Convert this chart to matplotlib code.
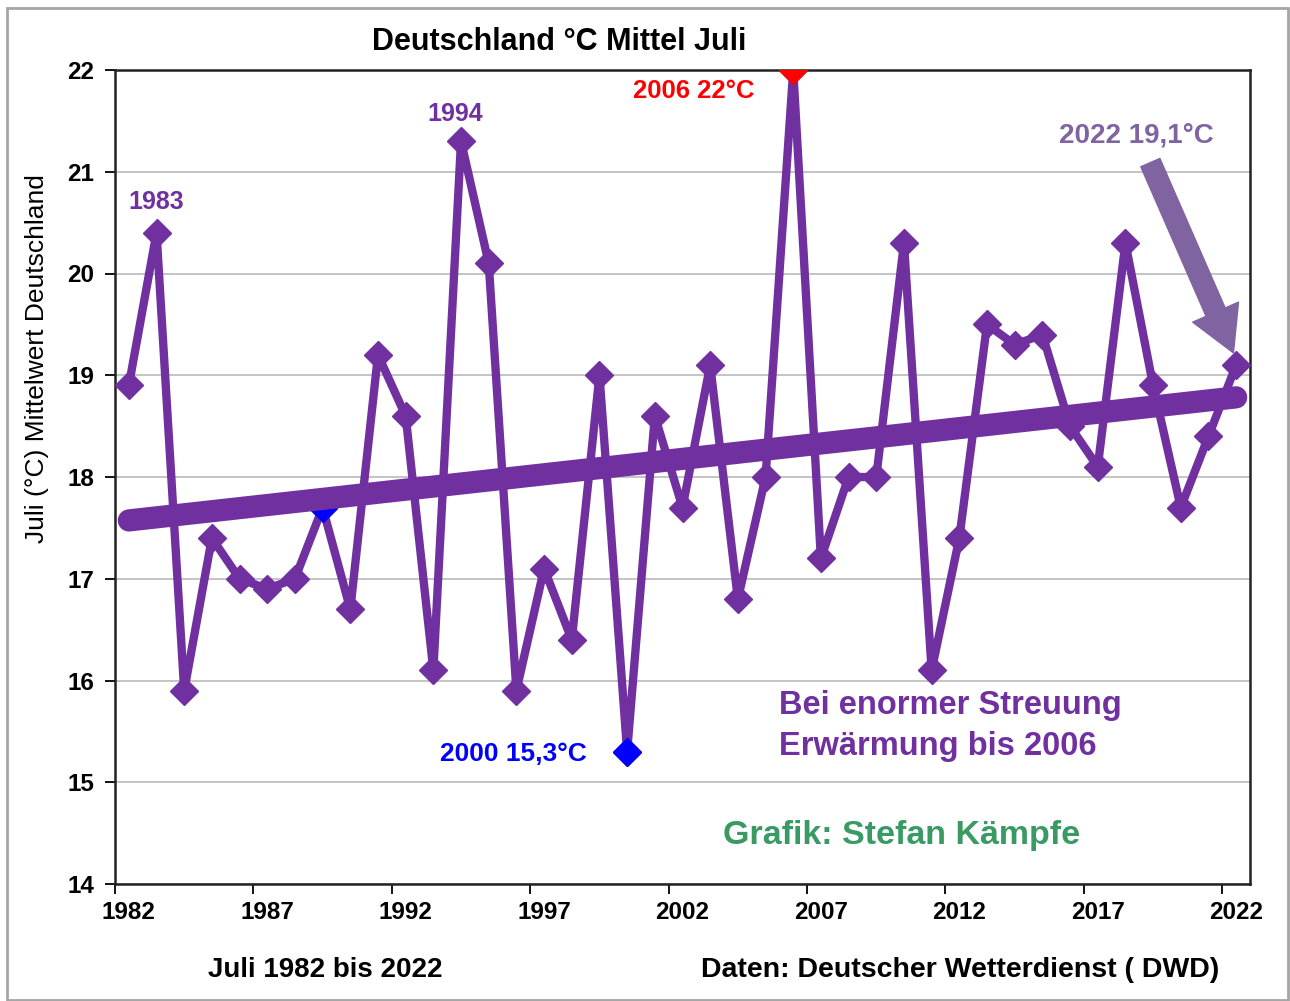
import numpy as np
import matplotlib
matplotlib.use("Agg")
import matplotlib.pyplot as plt
from matplotlib.patches import Rectangle

# Juli-Mitteltemperatur Deutschland (DWD)
years = list(range(1982, 2023))
temps = [18.9, 20.4, 15.9, 17.4, 17.0, 16.9, 17.0, 17.7, 16.7, 19.2,
         18.6, 16.1, 21.3, 20.1, 15.9, 17.1, 16.4, 19.0, 15.3, 18.6,
         17.7, 19.1, 16.8, 18.0, 22.0, 17.2, 18.0, 18.0, 20.3, 16.1,
         17.4, 19.5, 19.3, 19.4, 18.5, 18.1, 20.3, 18.9, 17.7, 18.4,
         19.1]
label_years = list(range(1982, 2023, 5))
y_ticks = list(range(14, 23))

PURPLE = "#7030A0"
ARROW = "#8064A2"
GREEN = "#3A9A64"

NARROW = ["Liberation Sans Narrow", "Liberation Sans", "DejaVu Sans"]
ARIAL = ["Liberation Sans", "DejaVu Sans"]

fig = plt.figure(figsize=(12.9, 10.01), dpi=100)
ax = fig.add_axes([115 / 1290, 1 - 884 / 1001, (1250 - 115) / 1290, (884 - 70) / 1001])

# Rahmen um die Grafik
fig.patches.append(Rectangle((7 / 1290, 1 / 1001), 1281 / 1290, 992 / 1001,
                             transform=fig.transFigure, fill=False,
                             edgecolor="#A6A6A6", linewidth=2))

ax.plot(years, temps, color=PURPLE, linewidth=6, marker="D", markersize=14,
        markerfacecolor=PURPLE, markeredgecolor=PURPLE, zorder=3)

# Sonderpunkte
idx = {y: i for i, y in enumerate(years)}
for yr, c in [(1989, "blue"), (2000, "blue"), (2006, "red")]:
    ax.plot(yr, temps[idx[yr]], marker="D", markersize=14, color=c,
            markeredgecolor=c, zorder=4)

# linearer Trend
coef = np.polyfit(years, temps, 1)
tx = np.array([years[0], years[-1]])
ax.plot(tx, np.polyval(coef, tx), color=PURPLE, linewidth=16,
        solid_capstyle="round", zorder=5)

ax.set_xlim(1981.5, 2022.5)
ax.set_ylim(14, 22)
ax.set_yticks(y_ticks)
ax.set_xticks([y - 0.5 for y in label_years])
ax.set_xticklabels([])
ax.set_xticks(label_years, minor=True)
ax.set_xticklabels([str(y) for y in label_years], minor=True)
ax.tick_params(axis="x", which="major", direction="out", length=7, width=1.3)
ax.tick_params(axis="x", which="minor", length=0, pad=12)
ax.tick_params(axis="y", direction="out", length=7, width=1.3, pad=8)
for lab in ax.get_xticklabels(minor=True) + ax.get_yticklabels():
    lab.set_fontfamily(NARROW)
    lab.set_fontweight("bold")
    lab.set_fontsize(17.5)
ax.grid(axis="y", color="#BFBFBF", linewidth=1.3)
ax.set_axisbelow(True)
for s in ax.spines.values():
    s.set_linewidth(1.8)
    s.set_color("#222222")

ax.set_ylabel("Juli (°C) Mittelwert Deutschland", fontsize=19, family=ARIAL)
ax.yaxis.set_label_coords(-0.058, 0.646)

fig.text(559 / 1290, 1 - 42 / 1001, "Deutschland °C Mittel Juli", fontsize=22,
         fontweight="bold", family=ARIAL, ha="center", va="center")

# Beschriftungen im Diagramm
tk = dict(fontweight="bold", family=ARIAL, ha="center", va="center")
ax.text(1983, 20.70, "1983", color=PURPLE, fontsize=18, **tk)
ax.text(1993.8, 21.57, "1994", color=PURPLE, fontsize=18, **tk)
ax.text(2002.4, 21.79, "2006 22°C", color="red", fontsize=18.5, **tk)
ax.text(2018.4, 21.36, "2022 19,1°C", color=ARROW, fontsize=20, **tk)
ax.text(1995.9, 15.28, "2000 15,3°C", color="blue", fontsize=19, **tk)
ax.text(2005.5, 15.75, "Bei enormer Streuung", color=PURPLE, fontsize=23.5,
        fontweight="bold", family=ARIAL, ha="left", va="center")
ax.text(2005.5, 15.35, "Erwärmung bis 2006", color=PURPLE, fontsize=23.5,
        fontweight="bold", family=ARIAL, ha="left", va="center")
ax.text(2003.45, 14.48, "Grafik: Stefan Kämpfe", color=GREEN, fontsize=24.5,
        fontweight="bold", family=ARIAL, ha="left", va="center")

ax.annotate("", xy=(2021.9, 19.22), xytext=(2018.9, 21.09),
            arrowprops=dict(arrowstyle="simple,head_length=1.6,head_width=1.8,tail_width=0.75",
                            mutation_scale=20, color=ARROW, shrinkA=0, shrinkB=0),
            zorder=6)

fig.text(325 / 1290, 1 - 970 / 1001, "Juli 1982 bis 2022", fontsize=20,
         fontweight="bold", family=NARROW, ha="center", va="center")
fig.text(960 / 1290, 1 - 970 / 1001, "Daten: Deutscher Wetterdienst ( DWD)",
         fontsize=20.5, fontweight="bold", family=NARROW, ha="center", va="center")

fig.savefig("out.png", dpi=100)
